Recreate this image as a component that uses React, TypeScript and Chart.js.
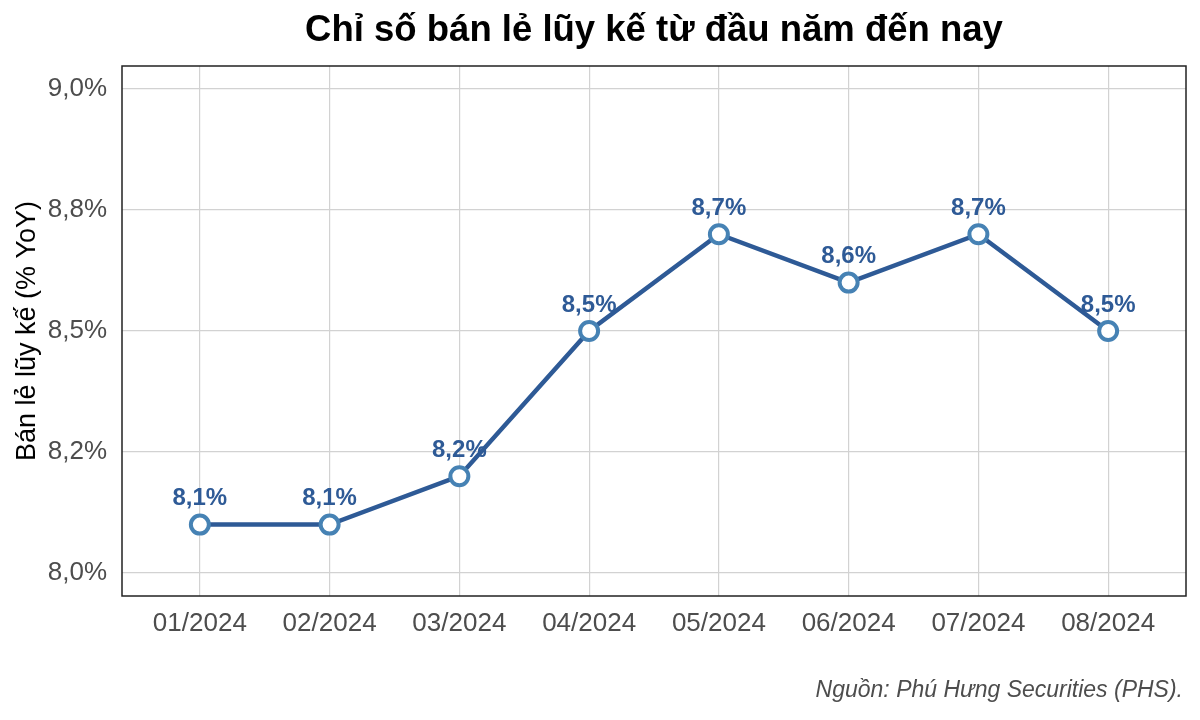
import React, { useEffect, useRef } from "react";
import { Chart, registerables } from "chart.js";

Chart.register(...registerables);

const categories = ["01/2024", "02/2024", "03/2024", "04/2024", "05/2024", "06/2024", "07/2024", "08/2024"];
const values = [8.1, 8.1, 8.2, 8.5, 8.7, 8.6, 8.7, 8.5];
const yTickValues = [8.0, 8.25, 8.5, 8.75, 9.0];
const yTickLabels = ["8,0%", "8,2%", "8,5%", "8,8%", "9,0%"];
const titleText = "Chỉ số bán lẻ lũy kế từ đầu năm đến nay";
const yTitleText = "Bán lẻ lũy kế (% YoY)";
const captionText = "Nguồn: Phú Hưng Securities (PHS).";

const FONT = "'Liberation Sans', Arial, sans-serif";
const LINE_COLOR = "#2E5A96";
const POINT_BORDER = "#4682B4";

const decorPlugin = {
  id: "decor",
  afterDatasetsDraw(chart: any) {
    const ctx = chart.ctx;
    const meta = chart.getDatasetMeta(0);
    ctx.save();
    ctx.font = `bold 24px ${FONT}`;
    ctx.fillStyle = LINE_COLOR;
    ctx.textAlign = "center";
    ctx.textBaseline = "middle";
    meta.data.forEach((pt: any, i: number) => {
      ctx.fillText(values[i].toFixed(1).replace(".", ",") + "%", pt.x, pt.y - 26);
    });
    ctx.restore();
  },
  afterDraw(chart: any) {
    const ctx = chart.ctx;
    const area = chart.chartArea;
    ctx.save();
    ctx.strokeStyle = "#222222";
    ctx.lineWidth = 1.5;
    ctx.strokeRect(area.left, area.top, area.right - area.left, area.bottom - area.top);
    ctx.fillStyle = "#000000";
    ctx.font = `bold 36.5px ${FONT}`;
    ctx.textAlign = "center";
    ctx.textBaseline = "middle";
    ctx.fillText(titleText, (area.left + area.right) / 2, 31);
    ctx.save();
    ctx.translate(28, (area.top + area.bottom) / 2);
    ctx.rotate(-Math.PI / 2);
    ctx.font = `27px ${FONT}`;
    ctx.fillStyle = "#000000";
    ctx.fillText(yTitleText, 0, 0);
    ctx.restore();
    ctx.font = `italic 23px ${FONT}`;
    ctx.fillStyle = "#4d4d4d";
    ctx.textAlign = "right";
    ctx.fillText(captionText, 1183, 691);
    ctx.restore();
  },
};

export default function App() {
  const ref = useRef<HTMLCanvasElement | null>(null);
  useEffect(() => {
    document.body.style.margin = "0";
    const canvas = ref.current;
    if (!canvas) return;
    const chart = new Chart(canvas, {
      type: "line",
      data: {
        datasets: [
          {
            data: values.map((v, i) => ({ x: i, y: v })),
            borderColor: LINE_COLOR,
            borderWidth: 4.5,
            pointRadius: 9,
            pointBorderWidth: 4,
            pointBackgroundColor: "#ffffff",
            pointBorderColor: POINT_BORDER,
            tension: 0,
          },
        ],
      },
      options: {
        responsive: false,
        animation: false,
        devicePixelRatio: 1,
        layout: { padding: { left: 0, top: 66, right: 14, bottom: 74 } },
        plugins: { legend: { display: false }, tooltip: { enabled: false }, title: { display: false } },
        scales: {
          x: {
            type: "linear",
            min: -0.6,
            max: 7.6,
            afterBuildTicks: (axis: any) => {
              axis.ticks = categories.map((_, i) => ({ value: i }));
            },
            afterFit: (axis: any) => {
              axis.height = 50;
            },
            grid: { color: "#d2d2d2", lineWidth: 1.2, drawTicks: false },
            border: { display: false },
            ticks: {
              padding: 12,
              color: "#4d4d4d",
              font: { family: FONT, size: 26 },
              maxRotation: 0,
              autoSkip: false,
              callback: (v: any) => categories[Math.round(Number(v))] ?? "",
            },
          },
          y: {
            type: "linear",
            min: 7.9525,
            max: 9.0475,
            afterBuildTicks: (axis: any) => {
              axis.ticks = yTickValues.map((v) => ({ value: v }));
            },
            afterFit: (axis: any) => {
              axis.width = 122;
            },
            grid: { color: "#d2d2d2", lineWidth: 1.2, drawTicks: false },
            border: { display: false },
            ticks: {
              padding: 15,
              color: "#4d4d4d",
              font: { family: FONT, size: 26 },
              callback: (v: any) => {
                const idx = yTickValues.findIndex((t) => Math.abs(t - Number(v)) < 1e-6);
                return idx >= 0 ? yTickLabels[idx] : "";
              },
            },
          },
        },
      },
      plugins: [decorPlugin],
    } as any);
    return () => chart.destroy();
  }, []);
  return (
    <div style={{ width: 1200, height: 720, background: "#ffffff" }}>
      <canvas ref={ref} width={1200} height={720} style={{ display: "block" }} />
    </div>
  );
}
